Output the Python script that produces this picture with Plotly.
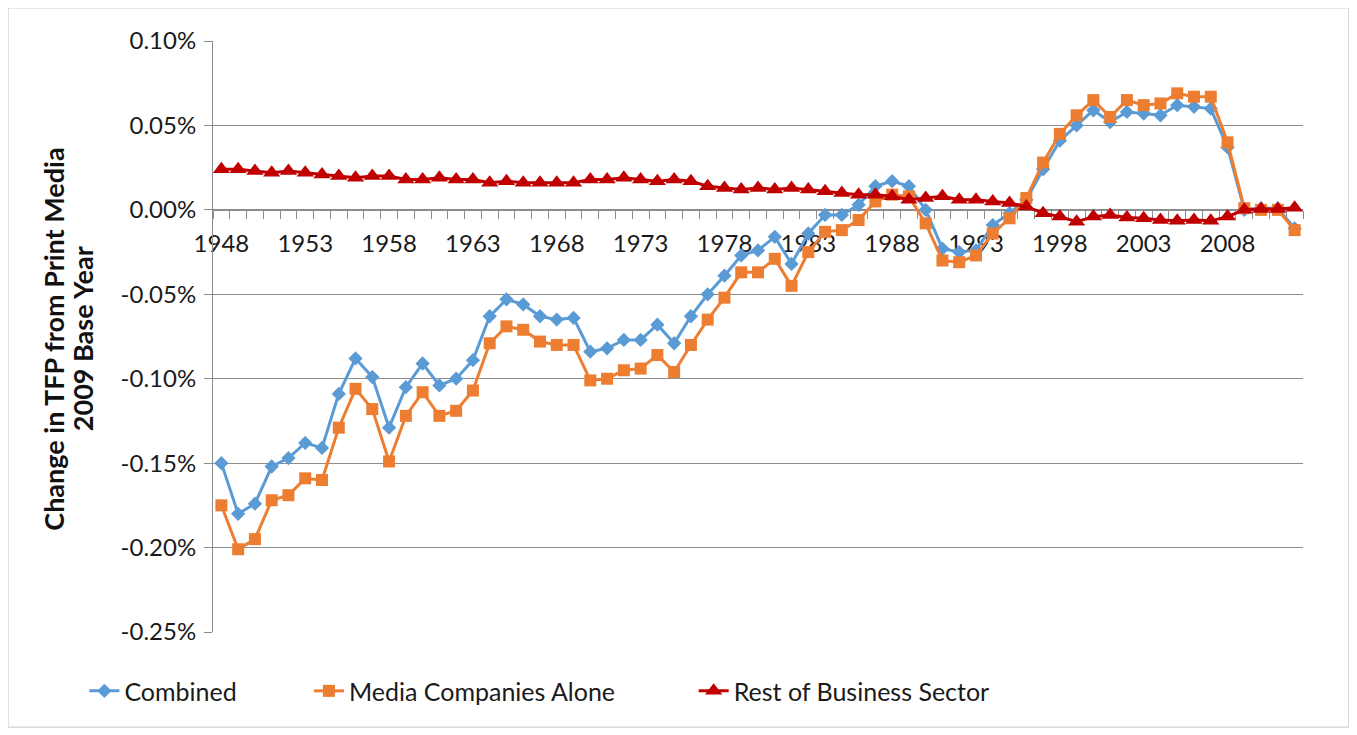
import plotly.graph_objects as go

years = list(range(1948, 2013))

combined = [
    -0.150, -0.180, -0.174, -0.152, -0.147, -0.138, -0.141, -0.109, -0.088, -0.099,
    -0.129, -0.105, -0.091, -0.104, -0.100, -0.089, -0.063, -0.053, -0.056, -0.063,
    -0.065, -0.064, -0.084, -0.082, -0.077, -0.077, -0.068, -0.079, -0.063, -0.050,
    -0.039, -0.027, -0.024, -0.016, -0.032, -0.014, -0.003, -0.003, 0.003, 0.014,
    0.017, 0.014, 0.000, -0.023, -0.025, -0.024, -0.009, -0.002, 0.006, 0.024,
    0.041, 0.050, 0.059, 0.052, 0.058, 0.057, 0.056, 0.062, 0.061, 0.060,
    0.037, 0.000, 0.001, 0.001, -0.011,
]

media_alone = [
    -0.175, -0.201, -0.195, -0.172, -0.169, -0.159, -0.160, -0.129, -0.106, -0.118,
    -0.149, -0.122, -0.108, -0.122, -0.119, -0.107, -0.079, -0.069, -0.071, -0.078,
    -0.080, -0.080, -0.101, -0.100, -0.095, -0.094, -0.086, -0.096, -0.080, -0.065,
    -0.052, -0.037, -0.037, -0.029, -0.045, -0.025, -0.013, -0.012, -0.006, 0.005,
    0.009, 0.008, -0.008, -0.030, -0.031, -0.027, -0.014, -0.005, 0.007, 0.028,
    0.045, 0.056, 0.065, 0.055, 0.065, 0.062, 0.063, 0.069, 0.067, 0.067,
    0.040, 0.001, 0.000, 0.000, -0.012,
]

rest_of_business = [
    0.024, 0.024, 0.023, 0.022, 0.023, 0.022, 0.021, 0.020, 0.019, 0.020,
    0.020, 0.018, 0.018, 0.019, 0.018, 0.018, 0.016, 0.017, 0.016, 0.016,
    0.016, 0.016, 0.018, 0.018, 0.019, 0.018, 0.017, 0.018, 0.017, 0.014,
    0.013, 0.012, 0.013, 0.012, 0.013, 0.012, 0.011, 0.010, 0.009, 0.009,
    0.008, 0.006, 0.007, 0.008, 0.006, 0.006, 0.005, 0.004, 0.002, -0.002,
    -0.004, -0.007, -0.004, -0.003, -0.0045, -0.005, -0.006, -0.0065, -0.006, -0.0065,
    -0.004, 0.000, 0.0005, 0.0005, 0.0012,
]

label_years = list(range(1948, 2009, 5))
y_ticks = [0.10, 0.05, 0.00, -0.05, -0.10, -0.15, -0.20, -0.25]

FONT = "Lato"
TEXT = "#1a1a1a"
GRID = "#8c8c8c"

fig = go.Figure()

fig.add_trace(go.Scatter(
    x=years, y=combined, name="Combined", mode="lines+markers",
    line=dict(color="#5B9BD5", width=3),
    marker=dict(symbol="diamond", size=11, color="#5B9BD5"),
    legend="legend",
))
fig.add_trace(go.Scatter(
    x=years, y=media_alone, name="Media Companies Alone", mode="lines+markers",
    line=dict(color="#ED7D31", width=3),
    marker=dict(symbol="square", size=12, color="#ED7D31"),
    legend="legend2",
))
fig.add_trace(go.Scatter(
    x=years, y=rest_of_business, name="Rest of Business Sector", mode="lines+markers",
    line=dict(color="#C00000", width=3),
    marker=dict(symbol="triangle-up", size=15, color="#C00000"),
    legend="legend3",
))

legend_style = dict(
    orientation="h", yanchor="middle", xanchor="left", y=-0.10,
    font=dict(family=FONT, size=25, color=TEXT), bgcolor="rgba(0,0,0,0)",
)

title_font = dict(family=FONT, size=27, color="#111111")

fig.update_layout(
    width=1349, height=727,
    margin=dict(l=205, r=54, t=33, b=103),
    paper_bgcolor="white", plot_bgcolor="white",
    font=dict(family=FONT, color=TEXT),
    showlegend=True,
    legend=dict(x=-0.118, **legend_style),
    legend2=dict(x=0.088, **legend_style),
    legend3=dict(x=0.441, **legend_style),
    xaxis=dict(
        range=[1947.5, 2012.5],
        anchor="free", position=0.25 / 0.35,
        tickmode="array", tickvals=label_years, ticktext=[str(v) for v in label_years],
        ticks="", ticklabelstandoff=12,
        tickfont=dict(family=FONT, size=24, color=TEXT),
        minor=dict(tickmode="linear", tick0=1947.5, dtick=1, ticks="outside",
                   ticklen=8, tickcolor=GRID, tickwidth=1),
        showline=True, linecolor=GRID, linewidth=1,
        showgrid=False, zeroline=False, layer="below traces",
    ),
    yaxis=dict(
        range=[-0.25, 0.10],
        tickmode="array", tickvals=y_ticks, ticktext=[f"{v:.2f}%" for v in y_ticks],
        ticks="outside", ticklen=8, tickcolor=GRID, ticklabelstandoff=3,
        tickfont=dict(family=FONT, size=24, color=TEXT),
        showgrid=True, gridcolor=GRID, gridwidth=1,
        showline=True, linecolor=GRID, linewidth=1,
        zeroline=False,
    ),
    annotations=[
        dict(text="<b>Change in TFP from Print Media</b>",
             xref="paper", yref="paper", x=-0.146, y=0.496,
             xanchor="center", yanchor="middle", textangle=-90, showarrow=False,
             font=title_font),
        dict(text="<b>2009 Base Year</b>",
             xref="paper", yref="paper", x=-0.119, y=0.496,
             xanchor="center", yanchor="middle", textangle=-90, showarrow=False,
             font=title_font),
    ],
    shapes=[dict(
        type="rect", xref="paper", yref="paper",
        x0=-0.188, x1=1.042, y0=-0.161, y1=1.056,
        line=dict(color="#c8c8c8", width=1), fillcolor="rgba(0,0,0,0)",
    )],
)

fig.write_html("out.html")
